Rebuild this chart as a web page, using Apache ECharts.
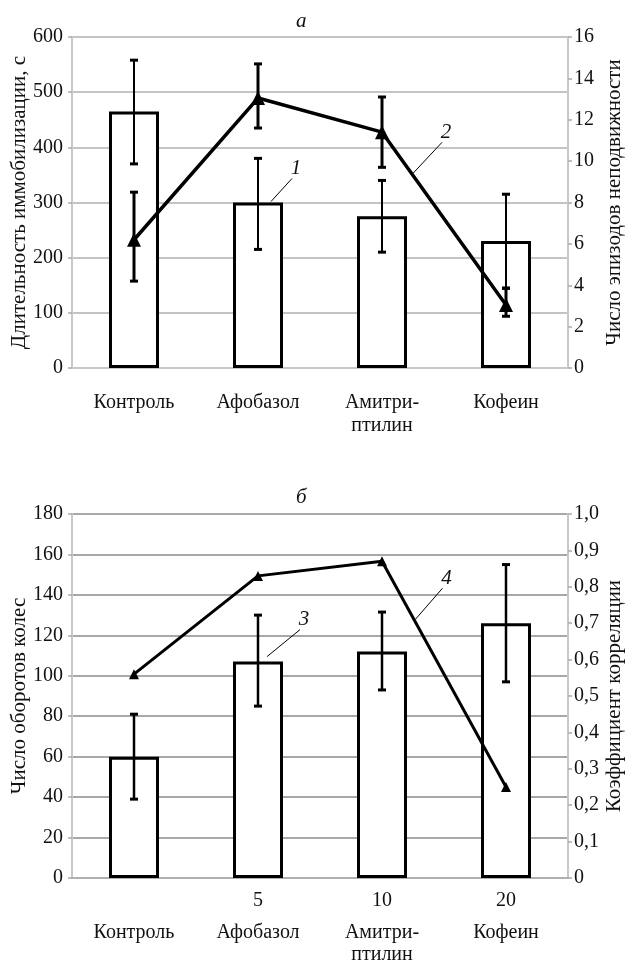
<!DOCTYPE html>
<html>
<head>
<meta charset="utf-8">
<script src="https://cdn.jsdelivr.net/npm/echarts@6/dist/echarts.min.js"></script>
<style>
  html, body { margin: 0; padding: 0; background: #fff; }
  #chart { width: 626px; height: 962px; }
</style>
</head>
<body>
<div id="chart"></div>
<script>
// категории и дозы
const categories = ['Контроль', 'Афобазол', 'Амитри-\nптилин', 'Кофеин'];
const doses = ['', '5', '10', '20'];

// а: длительность иммобилизации (1) и число эпизодов (2)
const durationMean = [465, 300, 275, 230];
const durationLow = [370, 215, 210, 145];
const durationHigh = [558, 380, 340, 315];
const episodesMean = [6.2, 13.05, 11.4, 3.05];
const episodesLow = [4.2, 11.6, 9.7, 2.5];
const episodesHigh = [8.5, 14.7, 13.1, 3.85];

// б: число оборотов колес (3) и коэффициент корреляции (4)
const rotationsMean = [60, 107, 112, 126];
const rotationsLow = [39, 85, 93, 97];
const rotationsHigh = [81, 130, 131.5, 155];
const correlation = [0.56, 0.83, 0.87, 0.25];

const FONT = '"Liberation Serif", "DejaVu Serif", serif';
const txt = { fontFamily: FONT, fontSize: 20, color: '#111' };

let chart = echarts.init(document.getElementById('chart'));

function errorBars(capHalf, width) {
  return function (params, api) {
    const x = api.value(0);
    const lo = api.coord([x, api.value(1)]);
    const hi = api.coord([x, api.value(2)]);
    const st = { stroke: '#000', lineWidth: width };
    const cap = { stroke: '#000', lineWidth: 3 };
    return {
      type: 'group',
      children: [
        { type: 'line', shape: { x1: lo[0], y1: lo[1], x2: hi[0], y2: hi[1] }, style: st },
        { type: 'line', shape: { x1: lo[0] - capHalf, y1: lo[1], x2: lo[0] + capHalf, y2: lo[1] }, style: cap },
        { type: 'line', shape: { x1: hi[0] - capHalf, y1: hi[1], x2: hi[0] + capHalf, y2: hi[1] }, style: cap }
      ]
    };
  };
}

function yAxisCfg(grid, pos, min, max, interval, name, gridColor, showSplit, fmt) {
  return {
    type: 'value',
    gridIndex: grid,
    position: pos,
    min: min, max: max, interval: interval,
    name: name,
    nameLocation: 'middle',
    nameRotate: 90,
    nameMoveOverlap: false,
    nameGap: pos === 'left' ? 42 : 36,
    nameTextStyle: { fontFamily: FONT, fontSize: 21, color: '#111' },
    axisLine: { show: true, lineStyle: { color: '#c8c8c8', width: 2 } },
    axisTick: { show: true, length: 4, lineStyle: { color: '#aaa', width: 1.5 } },
    axisLabel: Object.assign({ margin: pos === 'left' ? 9 : 6, formatter: fmt }, txt),
    splitLine: { show: showSplit, lineStyle: { color: gridColor, width: 2 } }
  };
}

let option = {
  animation: false,
  backgroundColor: '#fff',
  title: [
    { text: 'а', left: 291, top: 6, textStyle: { fontFamily: FONT, fontSize: 21, fontStyle: 'italic', fontWeight: 'normal', color: '#111' } },
    { text: 'б', left: 291, top: 482, textStyle: { fontFamily: FONT, fontSize: 21, fontStyle: 'italic', fontWeight: 'normal', color: '#111' } }
  ],
  grid: [
    { left: 72, right: 58, top: 37, height: 331, containLabel: false, outerBoundsMode: 'none' },
    { left: 72, right: 58, top: 514, height: 364, containLabel: false, outerBoundsMode: 'none' }
  ],
  xAxis: [
    {
      type: 'category',
      gridIndex: 0,
      data: categories,
      axisLine: { lineStyle: { color: '#c8c8c8', width: 2 } },
      axisTick: { length: 99, lineStyle: { color: '#d0d0d0', width: 2 } },
      axisLabel: Object.assign({ interval: 0, margin: 23, lineHeight: 23 }, txt)
    },
    {
      type: 'category',
      gridIndex: 1,
      data: categories,
      axisLine: { lineStyle: { color: '#b0b0b0', width: 2 } },
      axisTick: { length: 90, lineStyle: { color: '#c8c8c8', width: 2 } },
      axisLabel: {
        interval: 0,
        margin: 2,
        formatter: function (v, i) {
          return '{d|' + (doses[i] || ' ') + '}\n{n|' + v.split('\n').join('}\n{n|') + '}';
        },
        rich: {
          d: { fontFamily: FONT, fontSize: 20, color: '#111', lineHeight: 42 },
          n: { fontFamily: FONT, fontSize: 20, color: '#111', lineHeight: 22 }
        }
      }
    }
  ],
  yAxis: [
    yAxisCfg(0, 'left', 0, 600, 100, 'Длительность иммобилизации, с', '#c4c4c4', true),
    yAxisCfg(0, 'right', 0, 16, 2, 'Число эпизодов неподвижности', '#c4c4c4', false),
    yAxisCfg(1, 'left', 0, 180, 20, 'Число оборотов колес', '#a8a8a8', true),
    yAxisCfg(1, 'right', 0, 1, 0.1, 'Коэффициент корреляции', '#a8a8a8', false,
      function (v) { return v === 0 ? '0' : v.toFixed(1).replace('.', ','); })
  ],
  series: [
    {
      name: '1',
      type: 'bar',
      xAxisIndex: 0, yAxisIndex: 0,
      barWidth: 50,
      itemStyle: { color: '#fff', borderColor: '#000', borderWidth: 3 },
      data: durationMean
    },
    {
      type: 'custom',
      xAxisIndex: 0, yAxisIndex: 0,
      renderItem: errorBars(4, 2),
      encode: { x: 0, y: [1, 2] },
      z: 3,
      data: durationMean.map((_, i) => [i, durationLow[i], durationHigh[i]])
    },
    {
      name: '2',
      type: 'line',
      xAxisIndex: 0, yAxisIndex: 1,
      symbol: 'triangle',
      symbolSize: 14,
      itemStyle: { color: '#000' },
      lineStyle: { color: '#000', width: 3.5 },
      z: 4,
      data: episodesMean
    },
    {
      type: 'custom',
      xAxisIndex: 0, yAxisIndex: 1,
      renderItem: errorBars(4, 3),
      encode: { x: 0, y: [1, 2] },
      z: 5,
      data: episodesMean.map((_, i) => [i, episodesLow[i], episodesHigh[i]])
    },
    {
      name: '3',
      type: 'bar',
      xAxisIndex: 1, yAxisIndex: 2,
      barWidth: 50,
      itemStyle: { color: '#fff', borderColor: '#000', borderWidth: 3 },
      data: rotationsMean
    },
    {
      type: 'custom',
      xAxisIndex: 1, yAxisIndex: 2,
      renderItem: errorBars(4, 2.5),
      encode: { x: 0, y: [1, 2] },
      z: 3,
      data: rotationsMean.map((_, i) => [i, rotationsLow[i], rotationsHigh[i]])
    },
    {
      name: '4',
      type: 'line',
      xAxisIndex: 1, yAxisIndex: 3,
      symbol: 'triangle',
      symbolSize: 10,
      itemStyle: { color: '#000' },
      lineStyle: { color: '#000', width: 3 },
      z: 4,
      data: correlation
    }
  ]
};
chart.setOption(option);

// подписи кривых 1-4 с выносками
function note(pt, start, end, label) {
  return [
    { type: 'line', shape: { x1: pt[0] + start[0], y1: pt[1] + start[1], x2: pt[0] + end[0], y2: pt[1] + end[1] },
      style: { stroke: '#000', lineWidth: 1 }, z: 10 },
    { type: 'text', x: pt[0] + end[0] + 4, y: pt[1] + end[1] - 10, z: 10,
      style: { text: label, font: 'italic 21px ' + FONT, fill: '#111', align: 'center', verticalAlign: 'middle' } }
  ];
}
function along(seriesIndex, data, i, t) {
  const a = chart.convertToPixel({ seriesIndex: seriesIndex }, [i, data[i]]);
  const b = chart.convertToPixel({ seriesIndex: seriesIndex }, [i + 1, data[i + 1]]);
  return [a[0] + (b[0] - a[0]) * t, a[1] + (b[1] - a[1]) * t];
}
const p1 = chart.convertToPixel({ seriesIndex: 0 }, [1, durationMean[1]]);
const p2 = along(2, episodesMean, 2, 0.25);
const p3 = chart.convertToPixel({ seriesIndex: 4 }, [1, rotationsMean[1]]);
const p4 = along(6, correlation, 2, 0.27);
chart.setOption({
  graphic: [].concat(
    note(p1, [13, -1], [34, -24], '1'),
    note(p2, [0, -2], [29, -33], '2'),
    note(p3, [9, -5], [42, -32], '3'),
    note(p4, [0, -3], [27, -34], '4')
  )
});
</script>
</body>
</html>
